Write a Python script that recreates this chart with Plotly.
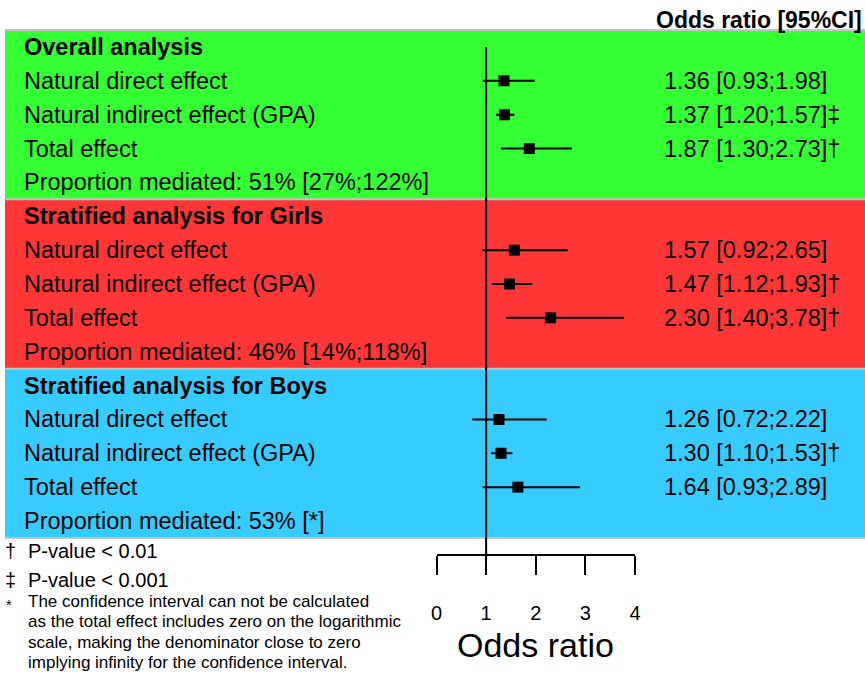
import plotly.graph_objects as go

# ---- data -------------------------------------------------------------
groups = ["Overall analysis",
          "Stratified analysis for Girls",
          "Stratified analysis for Boys"]
effects = ["Natural direct effect",
           "Natural indirect effect (GPA)",
           "Total effect"]

odds_overall = [1.36, 1.37, 1.87]
lower_overall = [0.93, 1.20, 1.30]
upper_overall = [1.98, 1.57, 2.73]
marks_overall = ["", "‡", "†"]

odds_girls = [1.57, 1.47, 2.30]
lower_girls = [0.92, 1.12, 1.40]
upper_girls = [2.65, 1.93, 3.78]
marks_girls = ["", "†", "†"]

odds_boys = [1.26, 1.30, 1.64]
lower_boys = [0.72, 1.10, 0.93]
upper_boys = [2.22, 1.53, 2.89]
marks_boys = ["", "†", ""]

mediated = ["Proportion mediated: 51% [27%;122%]",
            "Proportion mediated: 46% [14%;118%]",
            "Proportion mediated: 53% [*]"]

band_colors = ["#33FF33", "#FF3636", "#36CCFF"]
tick_values = [0, 1, 2, 3, 4]

footnotes = [("†", "P-value < 0.01"), ("‡", "P-value < 0.001")]
star_note = ["The confidence interval can not be calculated",
             "as the total effect includes zero on the logarithmic",
             "scale, making the denominator close to zero",
             "implying infinity for the confidence interval."]

odds = [odds_overall, odds_girls, odds_boys]
lower = [lower_overall, lower_girls, lower_boys]
upper = [upper_overall, upper_girls, upper_boys]
marks = [marks_overall, marks_girls, marks_boys]

# ---- geometry ---------------------------------------------------------
W, H = 865, 673
FONT = "Liberation Sans, Arial, Helvetica, sans-serif"
TEXT_SIZE = 23.5
ROW_PX = 33.857          # pixel height of one table row
FIRST_ROW_PX = 47        # pixel centre of the first row
AXIS_PX = 554            # pixel position of the odds-ratio axis line
ROWS_PER_GROUP = 5
LABEL_X = 22             # left edge of the row labels
VALUE_X = 662            # left edge of the odds-ratio column


def paper_y(px):
    return 1 - px / H


def paper_x(px):
    return px / W


fig = go.Figure()

# coloured bands behind each analysis block, with grey separators
for g, color in enumerate(band_colors):
    top = g * ROWS_PER_GROUP - 0.5
    fig.add_shape(type="rect", xref="paper", yref="y",
                  x0=paper_x(5), x1=1, y0=top, y1=top + ROWS_PER_GROUP,
                  fillcolor=color, line_width=0, layer="below")
for g in range(len(band_colors) + 1):
    yb = g * ROWS_PER_GROUP - 0.5
    fig.add_shape(type="line", xref="paper", yref="y",
                  x0=paper_x(5), x1=1, y0=yb, y1=yb,
                  line=dict(color="#C4C4C4", width=2), layer="below")

# reference line at OR = 1
axis_row = (AXIS_PX - FIRST_ROW_PX) / ROW_PX
fig.add_trace(go.Scatter(x=[1, 1], y=[0, axis_row], mode="lines",
                         line=dict(color="black", width=2),
                         hoverinfo="skip", showlegend=False))

text_font = dict(size=TEXT_SIZE, family=FONT, color="black")
annotations = []
for g, group in enumerate(groups):
    base = g * ROWS_PER_GROUP
    annotations.append(dict(x=paper_x(LABEL_X), y=base, xref="paper",
                            yref="y", text="<b>" + group + "</b>",
                            showarrow=False, xanchor="left",
                            yanchor="middle", font=text_font))
    ci_x, ci_y = [], []
    for i, label in enumerate(effects):
        row = base + 1 + i
        ci_x += [lower[g][i], upper[g][i], None]
        ci_y += [row, row, None]
        annotations.append(dict(x=paper_x(LABEL_X), y=row, xref="paper",
                                yref="y", text=label, showarrow=False,
                                xanchor="left", yanchor="middle",
                                font=text_font))
        value_text = "%.2f [%.2f;%.2f]%s" % (odds[g][i], lower[g][i],
                                             upper[g][i], marks[g][i])
        annotations.append(dict(x=paper_x(VALUE_X), y=row, xref="paper",
                                yref="y", text=value_text, showarrow=False,
                                xanchor="left", yanchor="middle",
                                font=text_font))
    annotations.append(dict(x=paper_x(LABEL_X), y=base + 4, xref="paper",
                            yref="y", text=mediated[g], showarrow=False,
                            xanchor="left", yanchor="middle",
                            font=text_font))
    rows = [base + 1 + i for i in range(len(effects))]
    fig.add_trace(go.Scatter(x=ci_x, y=ci_y, mode="lines",
                             line=dict(color="black", width=2),
                             hoverinfo="skip", showlegend=False))
    fig.add_trace(go.Scatter(x=odds[g], y=rows, mode="markers",
                             marker=dict(symbol="square", size=11,
                                         color="black", line_width=0),
                             showlegend=False))

# column header
annotations.append(dict(x=paper_x(864), y=paper_y(20), xref="paper",
                        yref="paper", text="<b>Odds ratio [95%CI]</b>",
                        showarrow=False, xanchor="right", yanchor="middle",
                        font=dict(size=23, family=FONT, color="black")))

# axis title
annotations.append(dict(x=2, y=paper_y(645), xref="x", yref="paper",
                        text="Odds ratio", showarrow=False,
                        xanchor="center", yanchor="middle",
                        font=dict(size=34, family=FONT, color="black")))

# footnotes
for k, (sym, txt) in enumerate(footnotes):
    ypx = 551 + 29 * k
    annotations.append(dict(x=paper_x(3), y=paper_y(ypx), xref="paper",
                            yref="paper", text=sym, showarrow=False,
                            xanchor="left", yanchor="middle",
                            font=dict(size=20, family=FONT, color="black")))
    annotations.append(dict(x=paper_x(26), y=paper_y(ypx), xref="paper",
                            yref="paper", text=txt, showarrow=False,
                            xanchor="left", yanchor="middle",
                            font=dict(size=20, family=FONT, color="black")))
annotations.append(dict(x=paper_x(4), y=paper_y(604), xref="paper",
                        yref="paper", text="*", showarrow=False,
                        xanchor="left", yanchor="middle",
                        font=dict(size=15, family=FONT, color="black")))
for k, line in enumerate(star_note):
    annotations.append(dict(x=paper_x(26), y=paper_y(601 + 20.5 * k),
                            xref="paper", yref="paper", text=line,
                            showarrow=False, xanchor="left", yanchor="middle",
                            font=dict(size=17, family=FONT, color="black")))

fig.update_layout(
    width=W, height=H,
    margin=dict(l=0, r=0, t=0, b=0, pad=0, autoexpand=False),
    paper_bgcolor="white", plot_bgcolor="rgba(0,0,0,0)",
    showlegend=False,
    annotations=annotations,
    xaxis=dict(domain=[paper_x(436.5), paper_x(635)], range=[0, 4],
               tickvals=tick_values, showline=True, linecolor="black",
               linewidth=2, ticks="outside", ticklen=19, tickwidth=2,
               tickcolor="black", showgrid=False, zeroline=False,
               ticklabelstandoff=21, automargin=False,
               tickfont=dict(size=20, family=FONT, color="black"),
               fixedrange=True),
    yaxis=dict(domain=[paper_y(AXIS_PX), 1],
               range=[axis_row, -FIRST_ROW_PX / ROW_PX],
               visible=False, fixedrange=True, automargin=False),
)

fig.write_html("out.html")
